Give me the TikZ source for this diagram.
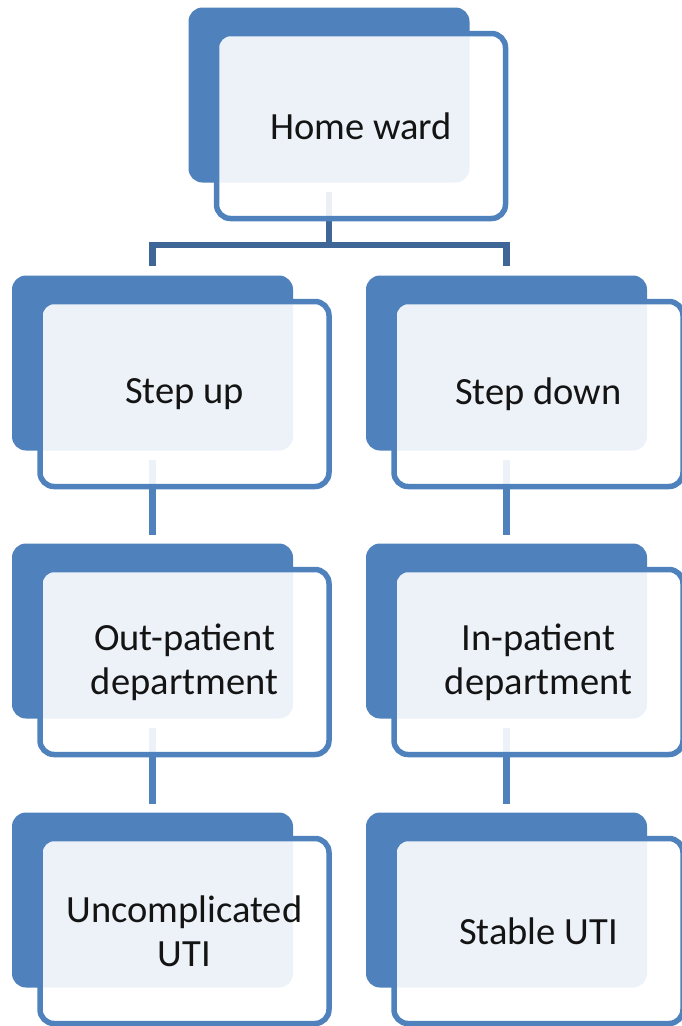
\documentclass[tikz,border=0pt]{standalone}
\usepackage{fontspec}
\setmainfont{Carlito}
\usetikzlibrary{calc}
\definecolor{boxblue}{RGB}{79,129,189}
\definecolor{barblue}{RGB}{62,102,150}
\definecolor{textdark}{RGB}{20,20,20}

\begin{document}
\begin{tikzpicture}[
        x=1pt, y=-1pt,
        back/.style={rectangle, rounded corners=14pt, fill=boxblue, minimum width=281pt, minimum height=175pt, inner sep=0pt},
        front/.style={rectangle, rounded corners=14pt, draw=boxblue, line width=5.5pt, fill=white, fill opacity=0.9, text opacity=1, minimum width=289pt, minimum height=185pt, align=center, text=textdark, font=\fontsize{38.5}{44}\selectfont},
        lift/.style={shift={(32,31)}},
        link/.style={line width=6.5pt, boxblue, shorten <=9pt, shorten >=8pt},
        bar/.style={line width=6.5pt, barblue}
    ]
        \useasboundingbox (0,0) rectangle (681,1026);

        \node[back] (hwback)   at (329, 95)  {};
        \node[back] (upback)   at (152.5,363) {};
        \node[back] (downback) at (506.5,363) {};
        \node[back] (opback)   at (152.5,631) {};
        \node[back] (ipback)   at (506.5,631) {};
        \node[back] (ucback)   at (152.5,900) {};
        \node[back] (stback)   at (506.5,900) {};

        % Connectors
        \coordinate (split) at (329,245);
        \draw[bar, shorten <=9pt] (hwback.south) -- (split);
        \draw[bar, shorten >=9pt] (split) -| (upback.north);
        \draw[bar, shorten >=9pt] (split) -| (downback.north);
        \draw[link] (upback.south)   -- (opback.north);
        \draw[link] (opback.south)   -- (ucback.north);
        \draw[link] (downback.south) -- (ipback.north);
        \draw[link] (ipback.south)   -- (stback.north);

        \node[front] (hw)   at ([lift]hwback.center)   {Home ward};
        \node[front] (up)   at ([lift]upback.center)   {Step up};
        \node[front] (down) at ([lift]downback.center) {Step down};
        \node[front] (op)   at ([lift]opback.center)   {Out-patient\\department};
        \node[front] (ip)   at ([lift]ipback.center)   {In-patient\\department};
        \node[front] (uc)   at ([lift]ucback.center)   {Uncomplicated\\UTI};
        \node[front] (st)   at ([lift]stback.center)   {Stable UTI};
    \end{tikzpicture}
\end{document}
